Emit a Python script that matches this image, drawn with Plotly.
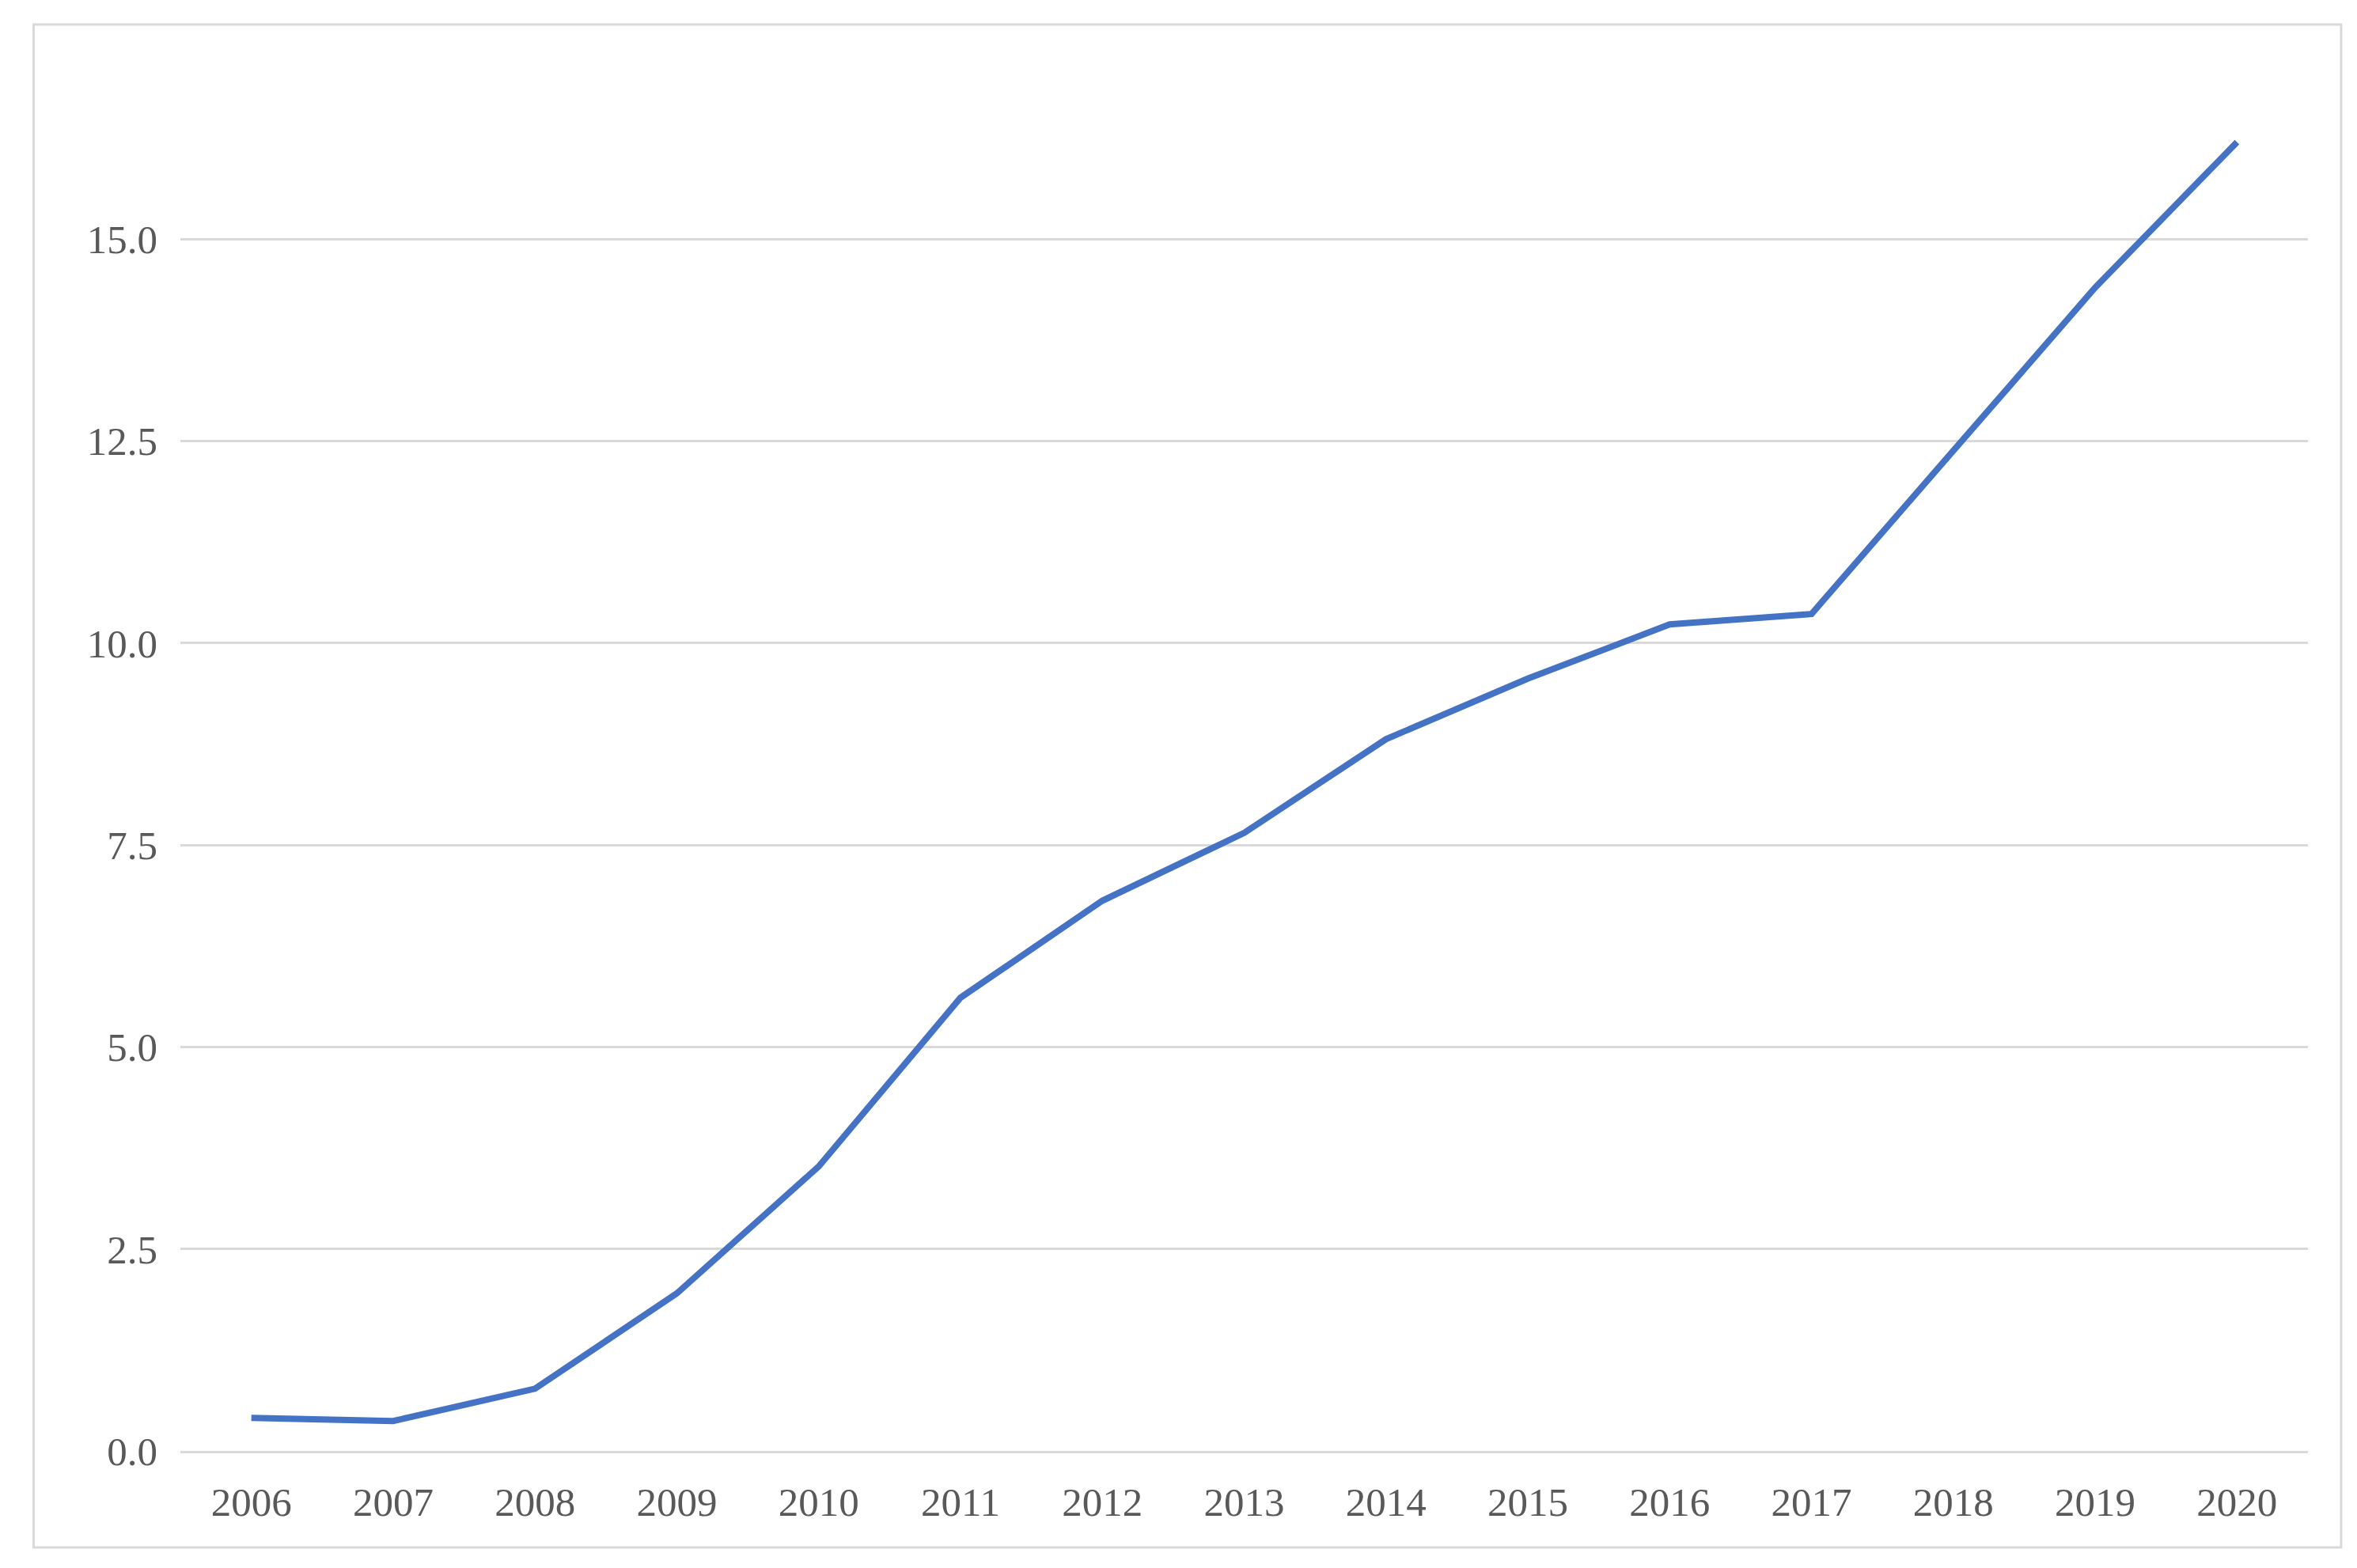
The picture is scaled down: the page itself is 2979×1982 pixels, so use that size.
import plotly.graph_objects as go

years = [str(y) for y in range(2006, 2021)]
values = [0.41, 0.37, 0.77, 1.95, 3.52, 5.61, 6.81, 7.65, 8.81, 9.56, 10.23, 10.36, 12.38, 14.40, 16.20]
y_ticks = [0, 2.5, 5, 7.5, 10, 12.5, 15]
y_labels = ["0.0", "2.5", "5.0", "7.5", "10.0", "12.5", "15.0"]

fig = go.Figure(go.Scatter(x=years, y=values, mode="lines",
                           line=dict(color="#4472C4", width=8)))
fig.update_layout(
    width=2979, height=1982, paper_bgcolor="white", plot_bgcolor="white",
    margin=dict(l=220, r=70, t=141, b=156), showlegend=False,
    font=dict(family="Liberation Serif", size=51, color="#595959"),
    shapes=[dict(type="rect", xref="paper", yref="paper", x0=-0.069, x1=1.0156,
                 y0=-0.0724, y1=1.070, line=dict(color="#d9d9d9", width=3))],
)
fig.update_xaxes(type="category", range=[-0.5, 14.5], showgrid=False,
                 showline=True, linecolor="#d9d9d9", linewidth=3, ticks="", ticklabelstandoff=18)
fig.update_yaxes(range=[0, 16.5], tickvals=y_ticks, ticktext=y_labels,
                 gridcolor="#d9d9d9", gridwidth=3, zeroline=False, ticks="", ticklabelstandoff=28)
fig.write_html("out.html")
